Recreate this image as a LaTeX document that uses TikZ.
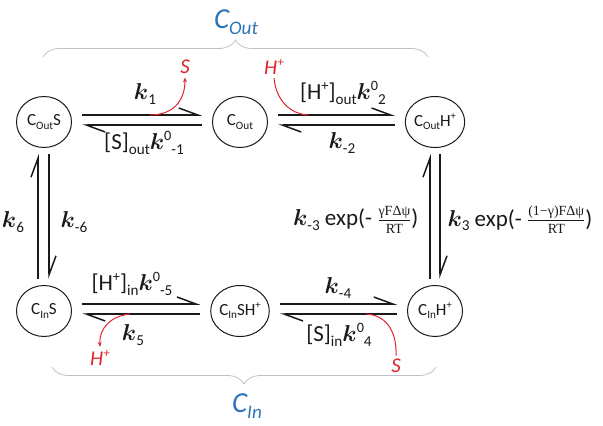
\RequirePackage{fix-cm}
\documentclass[tikz,border=0pt]{standalone}
\usepackage{amsmath}
\usepackage{graphicx}
\usepackage{fontspec}
\setmainfont{Carlito}
\newfontfamily\fracfont{Liberation Serif}
\usetikzlibrary{positioning, arrows.meta, decorations.pathreplacing, shapes.geometric}
\definecolor{stateBlack}{HTML}{1A1A1A}
\definecolor{poolBlue}{HTML}{2E75B6}
\definecolor{ionRed}{HTML}{E0262C}
\definecolor{braceGrey}{HTML}{B9C2CB}

\newcommand{\rk}{$\boldsymbol{k}$}
\newcommand{\dn}[1]{\raisebox{-0.45ex}{\scalebox{0.66}{#1}}}
\newcommand{\up}[1]{\raisebox{0.8ex}{\scalebox{0.62}{#1}}}
\newcommand{\frf}[2]{$\frac{\text{\fracfont\fontsize{14}{14}\selectfont #1}}{\text{\fracfont\fontsize{14}{14}\selectfont #2}}$}

\begin{document}
\begin{tikzpicture}[x=1pt, y=-1pt, font=\fontsize{23}{25}\selectfont, text=stateBlack,
    state/.style={ellipse, draw=stateBlack, line width=1pt, minimum width=55pt, minimum height=51pt, inner sep=0pt, font=\fontsize{17}{17}\selectfont},
    harp/.style={draw=stateBlack, line width=1.5pt, -{Straight Barb[left, length=19pt, width=14pt]}},
    ion/.style={draw=ionRed, line width=1pt},
    ionlbl/.style={text=ionRed, font=\fontsize{21}{21}\selectfont\itshape},
    pool/.style={text=poolBlue, font=\fontsize{29}{29}\selectfont\itshape},
    bracket/.style={draw=braceGrey, line width=0.8pt, decorate, decoration={brace, amplitude=17pt}}]
    \useasboundingbox (0,0) rectangle (603,426);

    % states
    \node[state] (os) at (44,122) {C\dn{Out}S};
    \node[state] (o) at (240,122) {C\dn{Out}};
    \node[state] (oh) at (435,122) {C\dn{Out}H\up{+}};
    \node[state] (is) at (44,311) {C\dn{In}S};
    \node[state] (ish) at (240,311) {C\dn{In}SH\up{+}};
    \node[state] (ih) at (435,311) {C\dn{In}H\up{+}};

    % horizontal steps
    \draw[harp] ([shift={(10,-7)}]os.east) -- ([shift={(-10,-7)}]o.west);
    \draw[harp] ([shift={(-10,3)}]o.west) -- ([shift={(10,3)}]os.east);
    \draw[harp] ([shift={(10,-7)}]o.east) -- ([shift={(-10,-7)}]oh.west);
    \draw[harp] ([shift={(-10,3)}]oh.west) -- ([shift={(10,3)}]o.east);
    \draw[harp] ([shift={(10,-7)}]is.east) -- ([shift={(-10,-7)}]ish.west);
    \draw[harp] ([shift={(-10,3)}]ish.west) -- ([shift={(10,3)}]is.east);
    \draw[harp] ([shift={(10,-7)}]ish.east) -- ([shift={(-10,-7)}]ih.west);
    \draw[harp] ([shift={(-10,3)}]ih.west) -- ([shift={(10,3)}]ish.east);

    % vertical steps
    \draw[harp] ([shift={(-6,-6)}]is.north) -- ([shift={(-6,6)}]os.south);
    \draw[harp] ([shift={(5,6)}]os.south) -- ([shift={(5,-6)}]is.north);
    \draw[harp] ([shift={(-5,-6)}]ih.north) -- ([shift={(-5,6)}]oh.south);
    \draw[harp] ([shift={(5,6)}]oh.south) -- ([shift={(5,-6)}]ih.north);

    % rate constants
    \node (k1) at (145,94) {\rk\dn{1}};
    \node (km1) at (144,143) {[S]\dn{out}\rk\up{0}\dn{-1}};
    \node (k2) at (343,93) {[H\up{+}]\dn{out}\rk\up{0}\dn{2}};
    \node (km2) at (342,143) {\rk\dn{-2}};
    \node (k6) at (13,222) {\rk\dn{6}};
    \node (km6) at (74,222) {\rk\dn{-6}};
    \node[anchor=east] (km3) at (422,220) {\rk\dn{-3} exp(- \frf{γFΔψ}{RT})};
    \node[anchor=west] (k3) at (444,220) {\rk\dn{3} exp(- \frf{(1−γ)FΔψ}{RT})};
    \node (km5) at (132,284) {[H\up{+}]\dn{in}\rk\up{0}\dn{-5}};
    \node (k5) at (133,335) {\rk\dn{5}};
    \node (km4) at (338,288) {\rk\dn{-4}};
    \node (k4) at (339,335) {[S]\dn{in}\rk\up{0}\dn{4}};

    % ions
    \node[ionlbl] (sOut) at (185,67) {S};
    \node[ionlbl] (hOut) at (274,67) {H\up{+}};
    \node[ionlbl] (hIn) at (100,358) {H\up{+}};
    \node[ionlbl] (sIn) at (396,366) {S};
    \coordinate (sOn) at (150,115);
    \coordinate (hOn) at (308,115);
    \coordinate (hOff) at (130,314);
    \coordinate (sOff) at (366,314);
    \draw[ion, -{Stealth[length=5pt, width=4pt]}] (sOn) .. controls (172,115) and (185,102) .. (sOut.south);
    \draw[ion] (hOut.south) .. controls (276,100) and (290,114) .. (hOn);
    \draw[ion, -{Stealth[length=5pt, width=4pt]}] (hOff) .. controls (110,316) and (99,329) .. (hIn.north);
    \draw[ion] (sIn.north) .. controls (397,331) and (386,315) .. (sOff);

    % pools
    \draw[bracket] (43,57) -- (428,57);
    \draw[bracket] (436,367) -- (52,367);
    \node[pool] (cout) at (236,22) {C\dn{Out}};
    \node[pool] (cin) at (247,406) {C\dn{In}};
\end{tikzpicture}
\end{document}
